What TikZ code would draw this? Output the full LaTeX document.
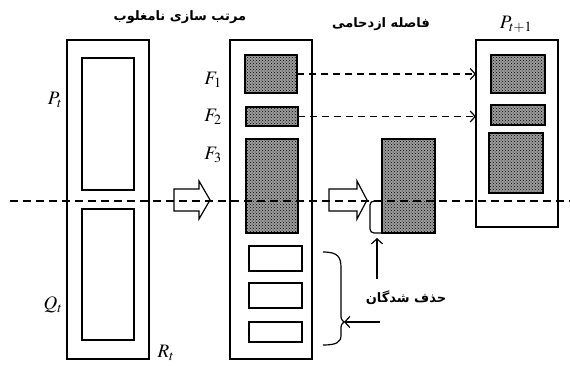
\documentclass[tikz,border=0pt]{standalone}
\usepackage{mathptmx}
\usepackage{fontspec}
\setmainfont{Liberation Serif}
\newfontfamily\arabicfont[Script=Arabic]{DejaVu Sans}
\TeXXeTstate=1
\usetikzlibrary{patterns,arrows.meta}
\begin{document}
\begin{tikzpicture}[x=1pt,y=-1pt,line width=1.2pt,
  box/.style={draw, anchor=north west, inner sep=0pt, outer sep=0pt},
  dotbox/.style={box, preaction={fill=gray!78}, pattern=crosshatch dots, pattern color=black},
  lab/.style={font=\fontsize{19}{22}\selectfont, inner sep=1pt},
  fa/.style={font=\arabicfont\bfseries\fontsize{13}{15}\selectfont},
  fat/.style={draw, line width=1.2pt, line join=miter},
  darr/.style={dashed, dash pattern=on 7pt off 5pt, line width=1.2pt, -{Straight Barb[length=5pt,width=11pt,line width=1.2pt]}},
  arr/.style={line width=1.2pt, -{Straight Barb[length=5pt,width=11pt,line width=1.2pt]}},
  cut/.style={dashed, dash pattern=on 8pt off 5pt, line width=1.2pt}]
\useasboundingbox (0,0) rectangle (570,365);
% left column
\node[box, minimum width=82pt, minimum height=319pt] (R) at (67,40) {};
\node[box, minimum width=52pt, minimum height=132pt] (P) at (82,58) {};
\node[box, minimum width=52pt, minimum height=131pt] (Q) at (82,209) {};
\node[lab] (Pl) at (55,100) {$P_t$};
\node[lab] (Ql) at (53,305) {$Q_t$};
\node[lab] (Rl) at (166,353) {$R_t$};
\node[fa] (t1) at (180,17) {\beginR مرتب سازی نامغلوب\endR};
% middle column
\node[box, minimum width=82pt, minimum height=319pt] (M) at (230,40) {};
\node[dotbox, minimum width=52pt, minimum height=38pt] (F1) at (245,55) {};
\node[dotbox, minimum width=52pt, minimum height=19pt] (F2) at (246,107) {};
\node[dotbox, minimum width=52pt, minimum height=94pt] (F3) at (246,139) {};
\node[box, minimum width=53pt, minimum height=25pt] (W1) at (249,246) {};
\node[box, minimum width=53pt, minimum height=25pt] (W2) at (249,283) {};
\node[box, minimum width=53pt, minimum height=20pt] (W3) at (249,322) {};
\node[lab] (F1l) at (213,80) {$F_1$};
\node[lab] (F2l) at (213,117) {$F_2$};
\node[lab] (F3l) at (213,155) {$F_3$};
% fat arrows
\draw[fat] (174,189) -- (199,189) -- (199,181) -- (210,200) -- (199,219) -- (199,211) -- (174,211) -- cycle;
\draw[fat] (329,189) -- (357,189) -- (357,181) -- (367,200) -- (357,219) -- (357,211) -- (329,211) -- cycle;
% crowding distance
\node[fa] (t2) at (381,24) {\beginR فاصله ازدحامی\endR};
\node[dotbox, minimum width=53pt, minimum height=94pt] (C) at (382,139) {};
\draw[line width=1.2pt, rounded corners=4pt] (382,201) -- (370,201) -- (370,233) -- (382,233);
% right column
\node[box, minimum width=82pt, minimum height=187pt] (N) at (476,40) {};
\node[dotbox, minimum width=54pt, minimum height=38pt] (G1) at (491,55) {};
\node[dotbox, minimum width=54pt, minimum height=20pt] (G2) at (491,105) {};
\node[dotbox, minimum width=54pt, minimum height=60pt] (G3) at (489,133) {};
\node[lab] (Nl) at (516,24) {$P_{t+1}$};
% dashed transfers
\draw[darr] (F1.east) -- (F1.east -| N.west);
\draw[darr] (F2.east) -- (F2.east -| N.west);
% rejected
\node[fa] (del) at (406,298) {\beginR حذف شدگان\endR};
\coordinate (upstart) at (377,279);
\coordinate (uptip) at (377,238);
\draw[arr] (upstart) -- (uptip);
\coordinate (lstart) at (380,322);
\coordinate (cusp) at (344,322);
\draw[arr] (lstart) -- (cusp);
\draw[line width=1.2pt] (323,252) .. controls (338,252) and (341,257) .. (341,268) -- (341,314) .. controls (341,319) .. (344,322) .. controls (341,325) .. (341,330) -- (341,335) .. controls (341,342) and (337,345) .. (323,345);
% cut line
\coordinate (cl) at (10,201);
\coordinate (cr) at (570,201);
\draw[cut] (cl) -- (cr);
\end{tikzpicture}
\end{document}
